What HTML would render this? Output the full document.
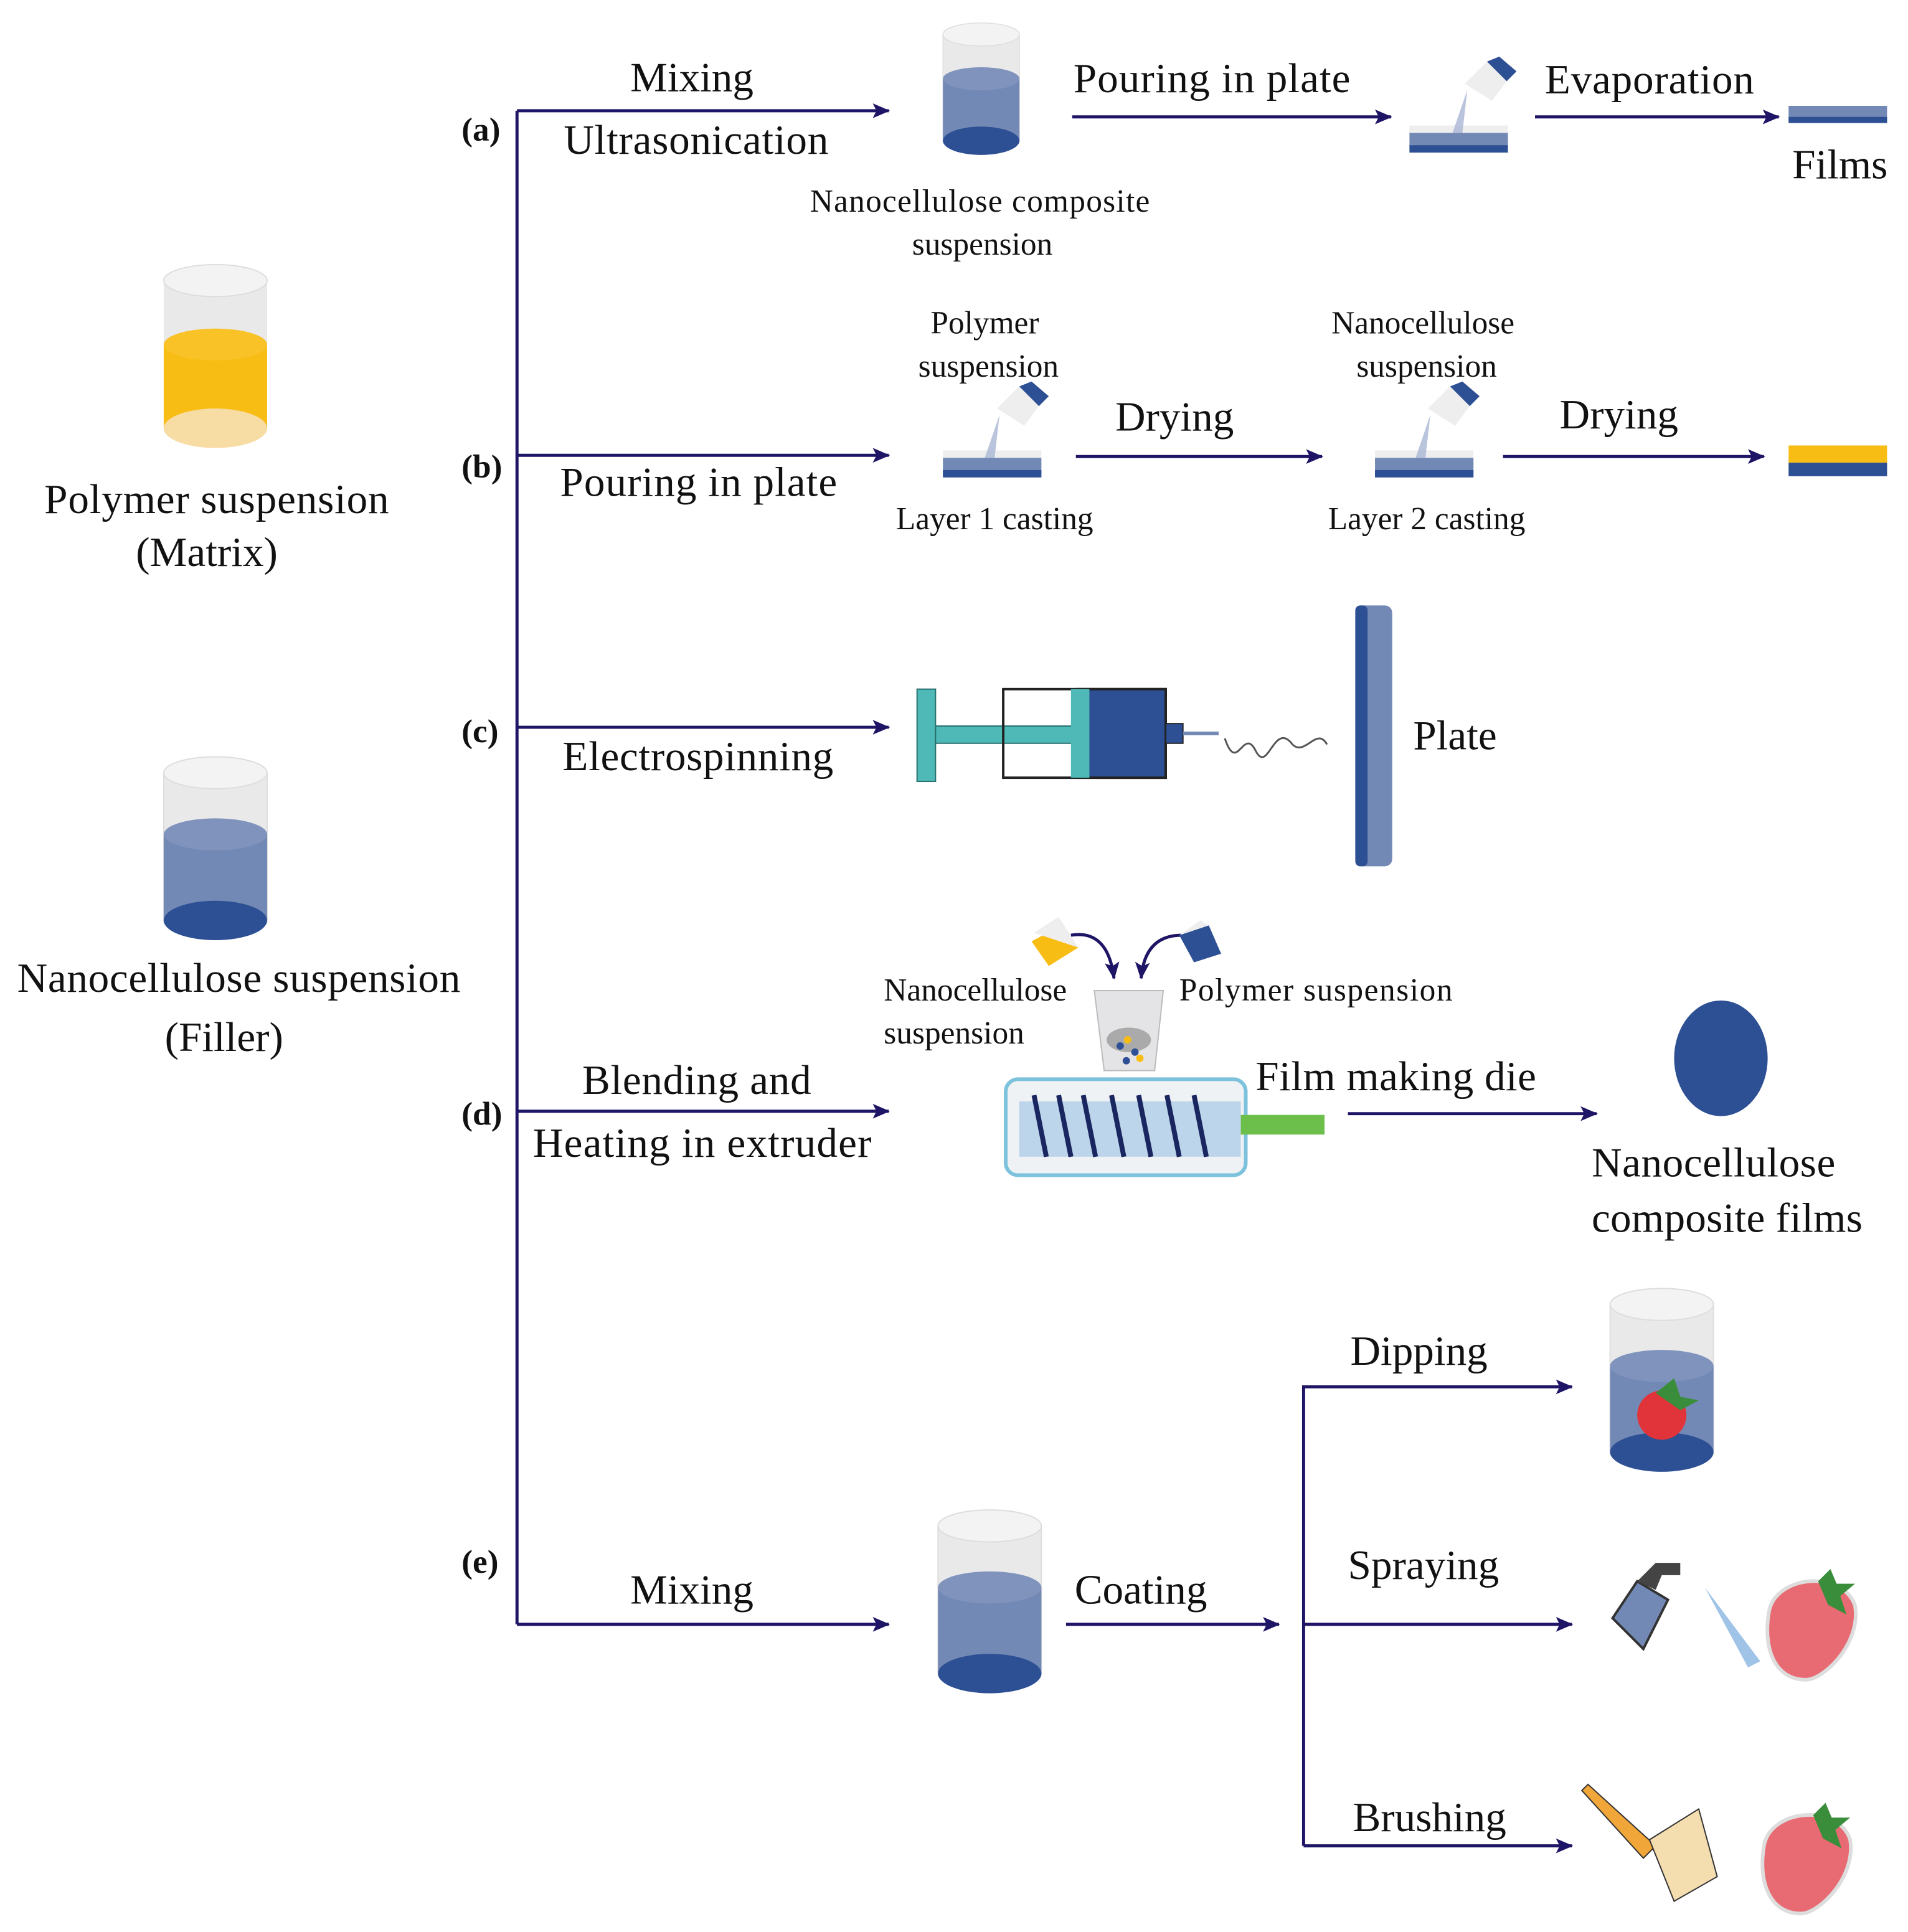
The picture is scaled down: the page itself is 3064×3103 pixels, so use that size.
<!DOCTYPE html>
<html><head><meta charset="utf-8"><style>
html,body{margin:0;padding:0;background:#fff}
svg{display:block}
text{font-family:"Liberation Serif",serif;fill:#111}
.L{font-size:34px}.S{font-size:26px}.B{font-size:27px;font-weight:bold}
</style></head><body>
<svg width="3064" height="3103" viewBox="0 0 1550 1570" preserveAspectRatio="none" xmlns="http://www.w3.org/2000/svg">
<defs>
<marker id="ar" markerWidth="16" markerHeight="14" refX="13" refY="7" orient="auto" markerUnits="userSpaceOnUse"><path d="M0,1 L14,7 L0,13 L3,7 Z" fill="#1f1566"/></marker>
<g id="beakerB">
<path d="M0,0 L0,120 A42,13 0 0 0 84,120 L84,0" fill="#e9e9ea" stroke="#ddd"/>
<path d="M0,50 L0,120 A42,13 0 0 0 84,120 L84,50" fill="#7389b5"/>
<ellipse cx="42" cy="50" rx="42" ry="13" fill="#7f93bd"/>
<ellipse cx="42" cy="120" rx="42" ry="16" fill="#2d4f93"/>
<ellipse cx="42" cy="0" rx="42" ry="13" fill="#f3f3f3" stroke="#ddd"/>
</g>
<g id="plate"><rect x="0" y="0" width="80" height="14" fill="#7389b5"/><rect x="0" y="10" width="80" height="6" fill="#2d4f93"/><rect x="0" y="-6" width="80" height="6" fill="#eee"/></g>
<g id="pour"><path d="M-10,-40 L8,-58 L24,-42 L12,-26 Z" fill="#eee"/><path d="M8,-58 L24,-42 L32,-50 L18,-62Z" fill="#2d4f93"/><path d="M-8,-35 L-20,0 L-12,0 Z" fill="#a9b7d5" opacity="0.8"/></g>
</defs>
<g stroke="#1f1566" stroke-width="2.5" fill="none">
<path d="M420,90 V1320"/>
<path d="M420,90 H722" marker-end="url(#ar)"/>
<path d="M420,370 H722" marker-end="url(#ar)"/>
<path d="M420,591 H722" marker-end="url(#ar)"/>
<path d="M420,903 H722" marker-end="url(#ar)"/>
<path d="M420,1320 H722" marker-end="url(#ar)"/>
<path d="M871,95 H1130" marker-end="url(#ar)"/>
<path d="M1247,95 H1445" marker-end="url(#ar)"/>
<path d="M874,371 H1074" marker-end="url(#ar)"/>
<path d="M1221,371 H1433" marker-end="url(#ar)"/>
<path d="M1095,905 H1297" marker-end="url(#ar)"/>
<path d="M866,1320 H1039" marker-end="url(#ar)"/>
<path d="M1059,1500 V1127 H1277" marker-end="url(#ar)"/>
<path d="M1059,1320 H1277" marker-end="url(#ar)"/>
<path d="M1059,1500 H1277" marker-end="url(#ar)"/>
<path d="M870,760 Q900,755 905,795" marker-end="url(#ar)"/>
<path d="M960,760 Q930,760 927,795" marker-end="url(#ar)"/>
</g>
<text class="B" x="375" y="114">(a)</text><text class="B" x="375" y="388">(b)</text>
<text class="B" x="375" y="603">(c)</text><text class="B" x="375" y="914">(d)</text><text class="B" x="375" y="1278">(e)</text>
<text class="L" x="512" y="74">Mixing</text>
<text class="L" x="458" y="125" textLength="215">Ultrasonication</text>
<text class="L" x="872" y="75" textLength="225">Pouring in plate</text>
<text class="L" x="1255" y="76" textLength="170">Evaporation</text>
<text class="L" x="1456" y="145">Films</text>
<text class="S" x="796" y="172" text-anchor="middle" textLength="276">Nanocellulose composite</text>
<text class="S" x="798" y="207" text-anchor="middle">suspension</text>
<text class="S" x="800" y="271" text-anchor="middle">Polymer</text>
<text class="S" x="803" y="306" text-anchor="middle">suspension</text>
<text class="S" x="1156" y="271" text-anchor="middle">Nanocellulose</text>
<text class="S" x="1159" y="306" text-anchor="middle">suspension</text>
<text class="L" x="455" y="403" textLength="225">Pouring in plate</text>
<text class="L" x="906" y="350">Drying</text><text class="L" x="1267" y="348">Drying</text>
<text class="S" x="808" y="430" text-anchor="middle">Layer 1 casting</text>
<text class="S" x="1159" y="430" text-anchor="middle">Layer 2 casting</text>
<text class="L" x="457" y="626" textLength="220">Electrospinning</text>
<text class="L" x="1148" y="609">Plate</text>
<text class="S" x="718" y="813">Nanocellulose</text><text class="S" x="718" y="848">suspension</text>
<text class="S" x="958" y="813" textLength="222">Polymer suspension</text>
<text class="L" x="473" y="889" textLength="186">Blending and</text>
<text class="L" x="433" y="940" textLength="275">Heating in extruder</text>
<text class="L" x="1020" y="886" textLength="228">Film making die</text>
<text class="L" x="1293" y="956" textLength="198">Nanocellulose</text>
<text class="L" x="1293" y="1001" textLength="220">composite films</text>
<text class="L" x="512" y="1303">Mixing</text>
<text class="L" x="873" y="1303">Coating</text>
<text class="L" x="1097" y="1109">Dipping</text>
<text class="L" x="1095" y="1283">Spraying</text>
<text class="L" x="1099" y="1488">Brushing</text>
<text class="L" x="176" y="417" text-anchor="middle" textLength="280">Polymer suspension</text>
<text class="L" x="168" y="460" text-anchor="middle">(Matrix)</text>
<text class="L" x="194" y="806" text-anchor="middle" textLength="360">Nanocellulose suspension</text>
<text class="L" x="182" y="854" text-anchor="middle">(Filler)</text>
<!-- polymer beaker -->
<g transform="translate(133,228)">
<path d="M0,0 L0,120 A42,13 0 0 0 84,120 L84,0" fill="#e9e9ea"/>
<path d="M0,52 L0,120 A42,13 0 0 0 84,120 L84,52" fill="#f8bd14"/>
<ellipse cx="42" cy="52" rx="42" ry="13" fill="#f9c226"/>
<ellipse cx="42" cy="120" rx="42" ry="16" fill="#f7dca3"/>
<ellipse cx="42" cy="0" rx="42" ry="13" fill="#f3f3f3" stroke="#ddd"/>
</g>
<use href="#beakerB" x="133" y="628"/>
<use href="#beakerB" transform="translate(766,28) scale(0.74,0.72)"/>
<use href="#beakerB" x="762" y="1240"/>
<use href="#plate" x="1145" y="108"/><use href="#pour" x="1200" y="108"/>
<rect x="1453" y="86" width="80" height="12" fill="#7389b5"/><rect x="1453" y="95" width="80" height="5" fill="#2d4f93"/>
<use href="#plate" x="766" y="372"/><use href="#pour" x="820" y="372"/>
<use href="#plate" x="1117" y="372"/><use href="#pour" x="1170" y="372"/>
<rect x="1453" y="362" width="80" height="14" fill="#f8bd14"/><rect x="1453" y="376" width="80" height="11" fill="#2d4f93"/>
<!-- syringe -->
<rect x="745" y="560" width="15" height="75" fill="#4fb9b8" stroke="#26706f"/>
<rect x="760" y="590" width="115" height="14" fill="#4fb9b8" stroke="#26706f"/>
<rect x="815" y="560" width="132" height="72" fill="none" stroke="#222" stroke-width="2"/>
<rect x="875" y="560" width="72" height="72" fill="#2d4f93" stroke="#222" stroke-width="2"/>
<rect x="870" y="560" width="15" height="72" fill="#4fb9b8"/>
<rect x="947" y="588" width="14" height="16" fill="#2d4f93" stroke="#222"/>
<path d="M961,596 H990" stroke="#7389b5" stroke-width="3"/>
<path d="M995,600 C1005,630 1010,590 1020,610 C1030,630 1035,585 1050,605 C1060,615 1070,590 1078,605" fill="none" stroke="#555" stroke-width="1.5"/>
<rect x="1101" y="492" width="30" height="212" rx="6" fill="#7389b5"/><rect x="1101" y="492" width="10" height="212" rx="4" fill="#2d4f93"/>
<!-- extruder -->
<path d="M838,765 L862,752 L876,770 L852,785Z" fill="#f8bd14"/><path d="M840,758 L860,745 L876,770Z" fill="#eee"/>
<path d="M958,760 L982,752 L992,775 L970,782Z" fill="#2d4f93"/><path d="M958,760 L975,748 L982,752Z" fill="#eee"/>
<path d="M889,805 H945 L938,870 H897 Z" fill="#e4e4e6" stroke="#bbb"/>
<ellipse cx="917" cy="845" rx="18" ry="10" fill="#aaa"/>
<g fill="#2d4f93"><circle cx="910" cy="850" r="3"/><circle cx="922" cy="855" r="3"/><circle cx="915" cy="862" r="3"/></g>
<g fill="#f8bd14"><circle cx="916" cy="845" r="3"/><circle cx="926" cy="860" r="3"/></g>
<rect x="817" y="877" width="195" height="78" rx="10" fill="#eef2f5" stroke="#7cc2dc" stroke-width="3"/>
<rect x="828" y="895" width="180" height="45" fill="#bcd5ea"/>
<g stroke="#1a2660" stroke-width="4"><path d="M840,890 L850,940 M860,890 L870,940 M880,890 L890,940 M903,890 L913,940 M925,890 L935,940 M948,890 L958,940 M970,890 L980,940"/></g>
<rect x="1008" y="906" width="68" height="16" fill="#6dbf4b"/>
<ellipse cx="1398" cy="860" rx="38" ry="47" fill="#2d4f93"/>
<!-- dipping -->
<use href="#beakerB" x="1308" y="1060"/>
<circle cx="1350" cy="1150" r="20" fill="#e0343a"/><path d="M1345,1132 l15,-12 l5,15 l15,3 l-15,8z" fill="#3a8d3a"/>
<!-- sprayer -->
<path d="M1310,1315 l20,-30 l25,15 l-20,40 z" fill="#7389b5" stroke="#333" stroke-width="2"/>
<path d="M1330,1285 l15,-15 h20 v10 h-15 l-5,12z" fill="#444"/>
<path d="M1385,1290 L1430,1350 L1420,1355 Z" fill="#9fc4e8"/>
<g transform="translate(1472,1320)"><path d="M-35,-10 C-30,-40 25,-45 35,-15 C40,15 10,45 -5,45 C-30,45 -40,20 -35,-10Z" fill="#e86a72" stroke="#ddd" stroke-width="3"/><path d="M5,-35 l10,-10 l5,12 l15,0 l-12,10 l5,15 l-15,-8z" fill="#3a8d3a"/></g>
<g transform="translate(1468,1510)"><path d="M-35,-10 C-30,-40 25,-45 35,-15 C40,15 10,45 -5,45 C-30,45 -40,20 -35,-10Z" fill="#e86a72" stroke="#ddd" stroke-width="3"/><path d="M5,-35 l10,-10 l5,12 l15,0 l-12,10 l5,15 l-15,-8z" fill="#3a8d3a"/></g>
<!-- brush -->
<path d="M1290,1450 L1345,1500 L1335,1510 L1285,1455Z" fill="#f1a63a" stroke="#333"/>
<path d="M1340,1495 L1380,1470 L1395,1525 L1360,1545 Z" fill="#f4deb0" stroke="#333"/>
</svg>
</body></html>
